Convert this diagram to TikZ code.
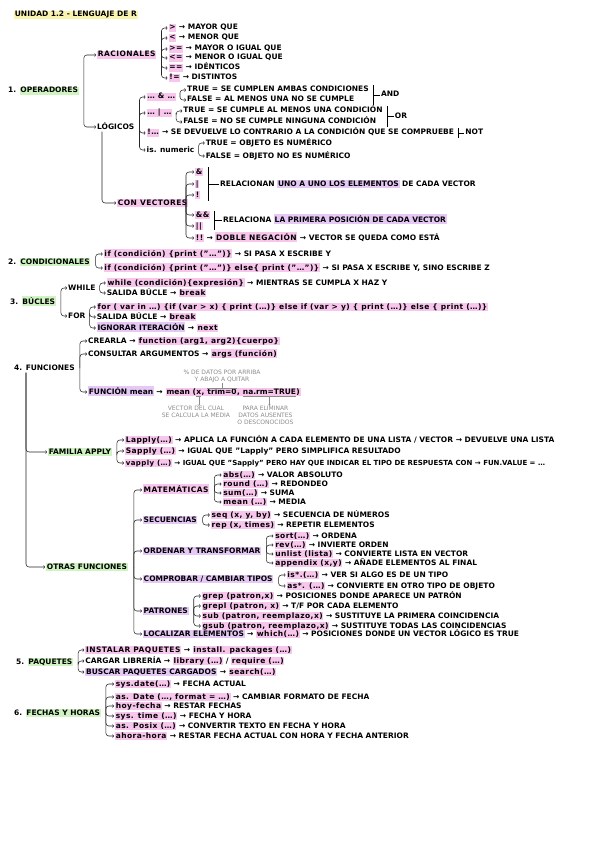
\documentclass[tikz,border=0pt]{standalone}
\usepackage{fontspec}
\setmainfont{DejaVu Sans}
\usetikzlibrary{calc,arrows.meta,backgrounds}
\definecolor{pinkhl}{HTML}{F8C6EC}
\definecolor{purplehl}{HTML}{E6C8F7}
\definecolor{greenhl}{HTML}{CFF4C2}
\definecolor{yellowhl}{HTML}{FAF3AE}
\definecolor{notegray}{HTML}{8C8C8C}
\newcommand\hlbox[2]{{\setlength\fboxsep{0.7pt}\colorbox{#1}{\rule[-1.4pt]{0pt}{6.9pt}#2}}}
\newcommand\mkp[1]{\hlbox{pinkhl}{\addfontfeature{LetterSpace=6}#1}}
\newcommand\mkv[1]{\hlbox{purplehl}{#1}}
\newcommand\mkg[1]{\hlbox{greenhl}{#1}}
\newcommand\mky[1]{\hlbox{yellowhl}{#1}}
\tikzset{
  txt/.style={font=\fontsize{7.5}{8.5}\selectfont\bfseries, inner sep=1pt, anchor=west, text height=5.5pt, text depth=1.5pt},
  chainpart/.style={txt, inner xsep=0pt},
  note/.style={font=\fontsize{6}{6.8}\selectfont, text=notegray, align=center, inner sep=0.5pt},
  link/.style={draw=black!85, line width=0.55pt, rounded corners=3pt, -{To[length=1.6pt,width=3.2pt]}},
  bar/.style={draw=black, line width=0.9pt},
  tick/.style={draw=black, line width=0.6pt},
  noteline/.style={draw=notegray, line width=0.45pt},
  notearrow/.style={noteline, -{To[length=1.4pt,width=2.6pt]}},
}
\begin{document}
\begin{tikzpicture}[x=1pt,y=-1pt]
\begin{pgfonlayer}{background}
\fill[white] (0,0) rectangle (600,848);
\end{pgfonlayer}
\useasboundingbox (0,0) rectangle (600,848);

% ---------- title
\node[txt] (title) at (13,15) {\mky{UNIDAD 1.2 - LENGUAJE DE R}};

% ---------- 1. operadores
\node[txt] (op) at (7,91) {1. \mkg{OPERADORES}};
\coordinate (opb) at ($(op.east)+(4,0)$);
\node[txt] (rac) at (96,55) {\mkp{RACIONALES}};
\node[txt] (log) at (96,127) {LÓGICOS};
\draw[link] (opb) |- (rac.west);
\draw[link] (opb) |- (log.west);

\coordinate (rb) at ($(rac.east)+(4,0)$);
\node[txt] (r1) at ([shift={(6,-27)}]rb) {\mkp{>} → MAYOR QUE};
\node[txt] (r2) at ([shift={(6,-17)}]rb) {\mkp{<} → MENOR QUE};
\node[txt] (r3) at ([shift={(6,-6)}]rb) {\mkp{>=} → MAYOR O IGUAL QUE};
\node[txt] (r4) at ([shift={(6,3)}]rb) {\mkp{<=} → MENOR O IGUAL QUE};
\node[txt] (r5) at ([shift={(6,13)}]rb) {\mkp{==} → IDÉNTICOS};
\node[txt] (r6) at ([shift={(6,23)}]rb) {\mkp{!=} → DISTINTOS};
\foreach \n in {r1,r2,r3,r4,r5,r6} \draw[link] (rb) |- (\n.west);

\coordinate (lb) at ($(log.east)+(4,0)$);
\node[txt] (l1) at ([shift={(6,-30)}]lb) {\mkp{… \& …}};
\node[txt] (l2) at ([shift={(6,-14)}]lb) {\mkp{… | …}};
\node[txt] (l3) at ([shift={(6,6)}]lb) {\mkp{!…} → SE DEVUELVE LO CONTRARIO A LA CONDICIÓN QUE SE COMPRUEBE};
\node[txt] (l4) at ([shift={(6,23)}]lb) {is. numeric};
\foreach \n in {l1,l2,l3,l4} \draw[link] (lb) |- (\n.west);

\coordinate (ab) at ($(l1.east)+(3,0)$);
\node[txt] (a1) at ([shift={(6,-7)}]ab) {TRUE = SE CUMPLEN AMBAS CONDICIONES};
\node[txt] (a2) at ([shift={(6,3)}]ab) {FALSE = AL MENOS UNA NO SE CUMPLE};
\foreach \n in {a1,a2} \draw[link] (ab) |- (\n.west);
\coordinate (andx) at ($(a1.east)+(4,0)$);
\draw[bar] (andx |- a1.north) -- (andx |- a2.south);
\coordinate (andm) at ($(andx)!0.5!(andx |- a2.west)$);
\node[txt] (and) at ($(andm)+(6,0)$) {AND};
\draw[tick] (andm) -- (and.west);

\coordinate (obr) at ($(l2.east)+(3,0)$);
\node[txt] (o1) at ([shift={(6,-2)}]obr) {TRUE = SE CUMPLE AL MENOS UNA CONDICIÓN};
\node[txt] (o2) at ([shift={(6,9)}]obr) {FALSE = NO SE CUMPLE NINGUNA CONDICIÓN};
\foreach \n in {o1,o2} \draw[link] (obr) |- (\n.west);
\coordinate (orx) at ($(o1.east)+(4,0)$);
\draw[bar] (orx |- o1.north) -- (orx |- o2.south);
\coordinate (orm) at ($(orx)!0.5!(orx |- o2.west)$);
\node[txt] (or) at ($(orm)+(6,0)$) {OR};
\draw[tick] (orm) -- (or.west);

\coordinate (notx) at ($(l3.east)+(3,0)$);
\draw[bar] ($(notx)+(0,-5)$) -- ($(notx)+(0,5)$);
\node[txt] (not) at ($(notx)+(6,0)$) {NOT};
\draw[tick] (notx) -- (not.west);

\coordinate (nb) at ($(l4.east)+(3,0)$);
\node[txt] (n1) at ([shift={(6,-7)}]nb) {TRUE = OBJETO ES NUMÉRICO};
\node[txt] (n2) at ([shift={(6,6)}]nb) {FALSE = OBJETO NO ES NUMÉRICO};
\foreach \n in {n1,n2} \draw[link] (nb) |- (\n.west);

\node[txt] (cv) at (116,203) {\mkp{CON VECTORES}};
\draw[link] ($(log.south west)+(6,0)$) |- (cv.west);
\coordinate (cvb) at (186,206);
\node[txt] (v1) at (194,172) {\mkp{\&}};
\node[txt] (v2) at (194,184) {\mkp{|}};
\node[txt] (v3) at (194,195) {\mkp{!}};
\node[txt] (v4) at (194,215) {\mkp{\&\&}};
\node[txt] (v5) at (194,226) {\mkp{||}};
\node[txt] (v6) at (194,238) {\mkp{!!} → \mkp{DOBLE NEGACIÓN} → VECTOR SE QUEDA COMO ESTÁ};
\foreach \n in {v1,v2,v3,v4,v5,v6} \draw[link] (cvb) |- (\n.west);
\draw[bar] (208,167) -- (208,201);
\node[txt] (b1) at (219,184) {RELACIONAN \mkv{UNO A UNO LOS ELEMENTOS} DE CADA VECTOR};
\draw[tick] (208,184) -- (b1.west);
\draw[bar] (214,211) -- (214,230);
\node[txt] (b2) at (222,220) {RELACIONA \mkv{LA PRIMERA POSICIÓN DE CADA VECTOR}};
\draw[tick] (214,220) -- (b2.west);

% ---------- 2. condicionales
\node[txt] (cond) at (7,262) {2. \mkg{CONDICIONALES}};
\coordinate (cb0) at ($(cond.east)+(4,0)$);
\node[txt] (c1) at ([shift={(7,-8)}]cb0) {\mkp{if (condición) \{print ("…")\}} → SI PASA X ESCRIBE Y};
\node[txt] (c2) at ([shift={(7,6)}]cb0) {\mkp{if (condición) \{print ("…")\} else\{ print ("…")\}} → SI PASA X ESCRIBE Y, SINO ESCRIBE Z};
\foreach \n in {c1,c2} \draw[link] (cb0) |- (\n.west);

% ---------- 3. bucles
\node[txt] (buc) at (9,302) {3. \mkg{BÚCLES}};
\coordinate (bucb) at ($(buc.east)+(4,0)$);
\node[txt] (wh) at ([shift={(6,-14)}]bucb) {WHILE};
\node[txt] (fo) at ([shift={(6,14)}]bucb) {FOR};
\foreach \n in {wh,fo} \draw[link] (bucb) |- (\n.west);
\coordinate (whb) at ($(wh.east)+(3,0)$);
\node[txt] (w1) at ([shift={(6,-5)}]whb) {\mkp{while (condición)\{expresión\}} → MIENTRAS SE CUMPLA X HAZ Y};
\node[txt] (w2) at ([shift={(6,5)}]whb) {SALIDA BÚCLE → \mkp{break}};
\foreach \n in {w1,w2} \draw[link] (whb) |- (\n.west);
\coordinate (fob) at ($(fo.east)+(3,0)$);
\node[txt] (f1) at ([shift={(6,-9)}]fob) {\mkp{for ( var in …) \{if (var > x) \{ print (…)\} else if (var > y) \{ print (…)\} else \{ print (…)\}}};
\node[txt] (f2) at ([shift={(6,1)}]fob) {SALIDA BÚCLE → \mkp{break}};
\node[txt] (f3) at ([shift={(6,12)}]fob) {\mkv{IGNORAR ITERACIÓN} → \mkp{next}};
\foreach \n in {f1,f2,f3} \draw[link] (fob) |- (\n.west);

% ---------- 4. funciones
\node[txt] (fun) at (13,368) {4. FUNCIONES};
\coordinate (funb) at ($(fun.east)+(4,0)$);
\node[txt] (fu1) at ([shift={(7,-27)}]funb) {CREARLA → \mkp{function (arg1, arg2)\{cuerpo\}}};
\node[txt] (fu2) at ([shift={(7,-14)}]funb) {CONSULTAR ARGUMENTOS → \mkp{args (función)}};
\node[txt] (m0) at ([shift={(7,24)}]funb) {\mkv{FUNCIÓN mean} →};
\node[chainpart] (m1) at ($(m0.east)+(2.5,0)$) {mean (};
\node[chainpart] (m2) at (m1.east) {x};
\node[chainpart] (m3) at (m2.east) {,\kern2.6pt};
\node[chainpart] (m4) at (m3.east) {trim=0};
\node[chainpart] (m5) at (m4.east) {,\kern2.6pt};
\node[chainpart] (m6) at (m5.east) {na.rm=TRUE};
\node[chainpart] (m7) at (m6.east) {)};
\begin{pgfonlayer}{background}
\fill[pinkhl] ($(m1.north west)+(-0.7,0.4)$) rectangle ($(m7.south east)+(0.7,-0.4)$);
\end{pgfonlayer}
\foreach \n in {fu1,fu2,m0} \draw[link] (funb) |- (\n.west);
\draw[noteline] ($(m4.north west)+(0,0.6)$) -- ($(m4.north east)+(0,0.6)$);
\node[note, anchor=south] (nt1) at ($(m4.north)+(0,-4)$) {\% DE DATOS POR ARRIBA\\Y ABAJO A QUITAR};
\draw[noteline] ($(m4.north)+(0,0.6)$) -- (nt1.south);
\draw[noteline] ($(m6.south west)+(0,-0.8)$) -- ($(m6.south east)+(0,-0.8)$);
\node[note, anchor=north west] (nt3) at ($(m6.south west)+(-6,9)$) {PARA ELIMINAR\\DATOS AUSENTES\\O DESCONOCIDOS};
\draw[notearrow] ($(m6.south)+(0,-0.8)$) -- (m6.south |- nt3.north);
\draw[noteline] ($(m2.south west)+(0,-0.8)$) -- ($(m2.south east)+(0,-0.8)$);
\node[note, anchor=north east] (nt2) at ($(nt3.north west)+(-6,0)$) {VECTOR DEL CUAL\\SE CALCULA LA MEDIA};
\draw[notearrow] ($(m2.south)+(0,-0.8)$) -- (m2.south |- nt2.north);

\coordinate (funt) at ($(fun.south west)+(13,0)$);
\node[txt] (fa) at (47,452) {\mkg{FAMILIA APPLY}};
\node[txt] (of) at (45,567) {\mkg{OTRAS FUNCIONES}};
\foreach \n in {fa,of} \draw[link] (funt) |- (\n.west);

\coordinate (fab) at ($(fa.east)+(4,0)$);
\node[txt] (ap1) at ([shift={(7,-12)}]fab) {\mkp{Lapply(…)} → APLICA LA FUNCIÓN A CADA ELEMENTO DE UNA LISTA / VECTOR → DEVUELVE UNA LISTA};
\node[txt] (ap2) at ([shift={(7,-1)}]fab) {\mkp{Sapply (…)} → IGUAL QUE "Lapply" PERO SIMPLIFICA RESULTADO};
\node[txt, font=\fontsize{7}{8}\selectfont\bfseries] (ap3) at ([shift={(7,11)}]fab) {\mkp{vapply (…)} → IGUAL QUE "Sapply" PERO HAY QUE INDICAR EL TIPO DE RESPUESTA CON → FUN.VALUE = …};
\foreach \n in {ap1,ap2,ap3} \draw[link] (fab) |- (\n.west);

\coordinate (ofb) at ($(of.east)+(5,0)$);
\node[txt] (mat) at ([shift={(8,-77)}]ofb) {\mkp{MATEMÁTICAS}};
\node[txt] (sec) at ([shift={(8,-47)}]ofb) {\mkv{SECUENCIAS}};
\node[txt] (ord) at ([shift={(8,-16)}]ofb) {\mkv{ORDENAR Y TRANSFORMAR}};
\node[txt] (com) at ([shift={(8,12)}]ofb) {\mkv{COMPROBAR / CAMBIAR TIPOS}};
\node[txt] (pat) at ([shift={(8,44)}]ofb) {\mkv{PATRONES}};
\node[txt] (loc) at ([shift={(8,67)}]ofb) {\mkv{LOCALIZAR ELEMENTOS} → \mkp{which(…)} → POSICIONES DONDE UN VECTOR LÓGICO ES TRUE};
\foreach \n in {mat,sec,ord,com,pat,loc} \draw[link] (ofb) |- (\n.west);

\coordinate (matb) at ($(mat.east)+(4,0)$);
\node[txt] (ma1) at ([shift={(7,-15)}]matb) {\mkp{abs(…)} → VALOR ABSOLUTO};
\node[txt] (ma2) at ([shift={(7,-6)}]matb) {\mkp{round (…)} → REDONDEO};
\node[txt] (ma3) at ([shift={(7,3)}]matb) {\mkp{sum(…)} → SUMA};
\node[txt] (ma4) at ([shift={(7,12)}]matb) {\mkp{mean (…)} → MEDIA};
\foreach \n in {ma1,ma2,ma3,ma4} \draw[link] (matb) |- (\n.west);

\coordinate (secb) at ($(sec.east)+(4,0)$);
\node[txt] (se1) at ([shift={(7,-5)}]secb) {\mkp{seq (x, y, by)} → SECUENCIA DE NÚMEROS};
\node[txt] (se2) at ([shift={(7,5)}]secb) {\mkp{rep (x, times)} → REPETIR ELEMENTOS};
\foreach \n in {se1,se2} \draw[link] (secb) |- (\n.west);

\coordinate (ordb) at ($(ord.east)+(4,0)$);
\node[txt] (or1) at ([shift={(7,-15)}]ordb) {\mkp{sort(…)} → ORDENA};
\node[txt] (or2) at ([shift={(7,-6)}]ordb) {\mkp{rev(…)} → INVIERTE ORDEN};
\node[txt] (or3) at ([shift={(7,3)}]ordb) {\mkp{unlist (lista)} → CONVIERTE LISTA EN VECTOR};
\node[txt] (or4) at ([shift={(7,12)}]ordb) {\mkp{appendix (x,y)} → AÑADE ELEMENTOS AL FINAL};
\foreach \n in {or1,or2,or3,or4} \draw[link] (ordb) |- (\n.west);

\coordinate (comb) at ($(com.east)+(4,0)$);
\node[txt] (co1) at ([shift={(7,-4)}]comb) {\mkp{is*.(…)} → VER SI ALGO ES DE UN TIPO};
\node[txt] (co2) at ([shift={(7,7)}]comb) {\mkp{as*. (…)} → CONVIERTE EN OTRO TIPO DE OBJETO};
\foreach \n in {co1,co2} \draw[link] (comb) |- (\n.west);

\coordinate (patb) at ($(pat.east)+(4,0)$);
\node[txt] (pa1) at ([shift={(7,-15)}]patb) {\mkp{grep (patron,x)} → POSICIONES DONDE APARECE UN PATRÓN};
\node[txt] (pa2) at ([shift={(7,-5)}]patb) {\mkp{grepl (patron, x)} → T/F POR CADA ELEMENTO};
\node[txt] (pa3) at ([shift={(7,5)}]patb) {\mkp{sub (patron, reemplazo,x)} → SUSTITUYE LA PRIMERA COINCIDENCIA};
\node[txt] (pa4) at ([shift={(7,15)}]patb) {\mkp{gsub (patron, reemplazo,x)} → SUSTITUYE TODAS LAS COINCIDENCIAS};
\foreach \n in {pa1,pa2,pa3,pa4} \draw[link] (patb) |- (\n.west);

% ---------- 5. paquetes
\node[txt] (pq) at (15,662) {5. \mkg{PAQUETES}};
\coordinate (pqb) at ($(pq.east)+(4,0)$);
\node[txt] (pq1) at ([shift={(6,-12)}]pqb) {\mkp{INSTALAR PAQUETES} → \mkp{install. packages (…)}};
\node[txt] (pq2) at ([shift={(6,-1)}]pqb) {CARGAR LIBRERÍA → \mkp{library (…)} / \mkp{require (…)}};
\node[txt] (pq3) at ([shift={(6,10)}]pqb) {\mkv{BUSCAR PAQUETES CARGADOS} → \mkp{search(…)}};
\foreach \n in {pq1,pq2,pq3} \draw[link] (pqb) |- (\n.west);

% ---------- 6. fechas y horas
\node[txt] (fe) at (13,713) {6. \mkg{FECHAS Y HORAS}};
\coordinate (feb) at ($(fe.east)+(4,0)$);
\node[txt] (fe1) at ([shift={(8,-29)}]feb) {\mkp{sys.date(…)} → FECHA ACTUAL};
\node[txt] (fe2) at ([shift={(8,-16)}]feb) {\mkp{as. Date (…, format = …)} → CAMBIAR FORMATO DE FECHA};
\node[txt] (fe3) at ([shift={(8,-7)}]feb) {\mkp{hoy-fecha} → RESTAR FECHAS};
\node[txt] (fe4) at ([shift={(8,3)}]feb) {\mkp{sys. time (…)} → FECHA Y HORA};
\node[txt] (fe5) at ([shift={(8,13)}]feb) {\mkp{as. Posix (…)} → CONVERTIR TEXTO EN FECHA Y HORA};
\node[txt] (fe6) at ([shift={(8,23)}]feb) {\mkp{ahora-hora} → RESTAR FECHA ACTUAL CON HORA Y FECHA ANTERIOR};
\foreach \n in {fe1,fe2,fe3,fe4,fe5,fe6} \draw[link] (feb) |- (\n.west);
\end{tikzpicture}
\end{document}
